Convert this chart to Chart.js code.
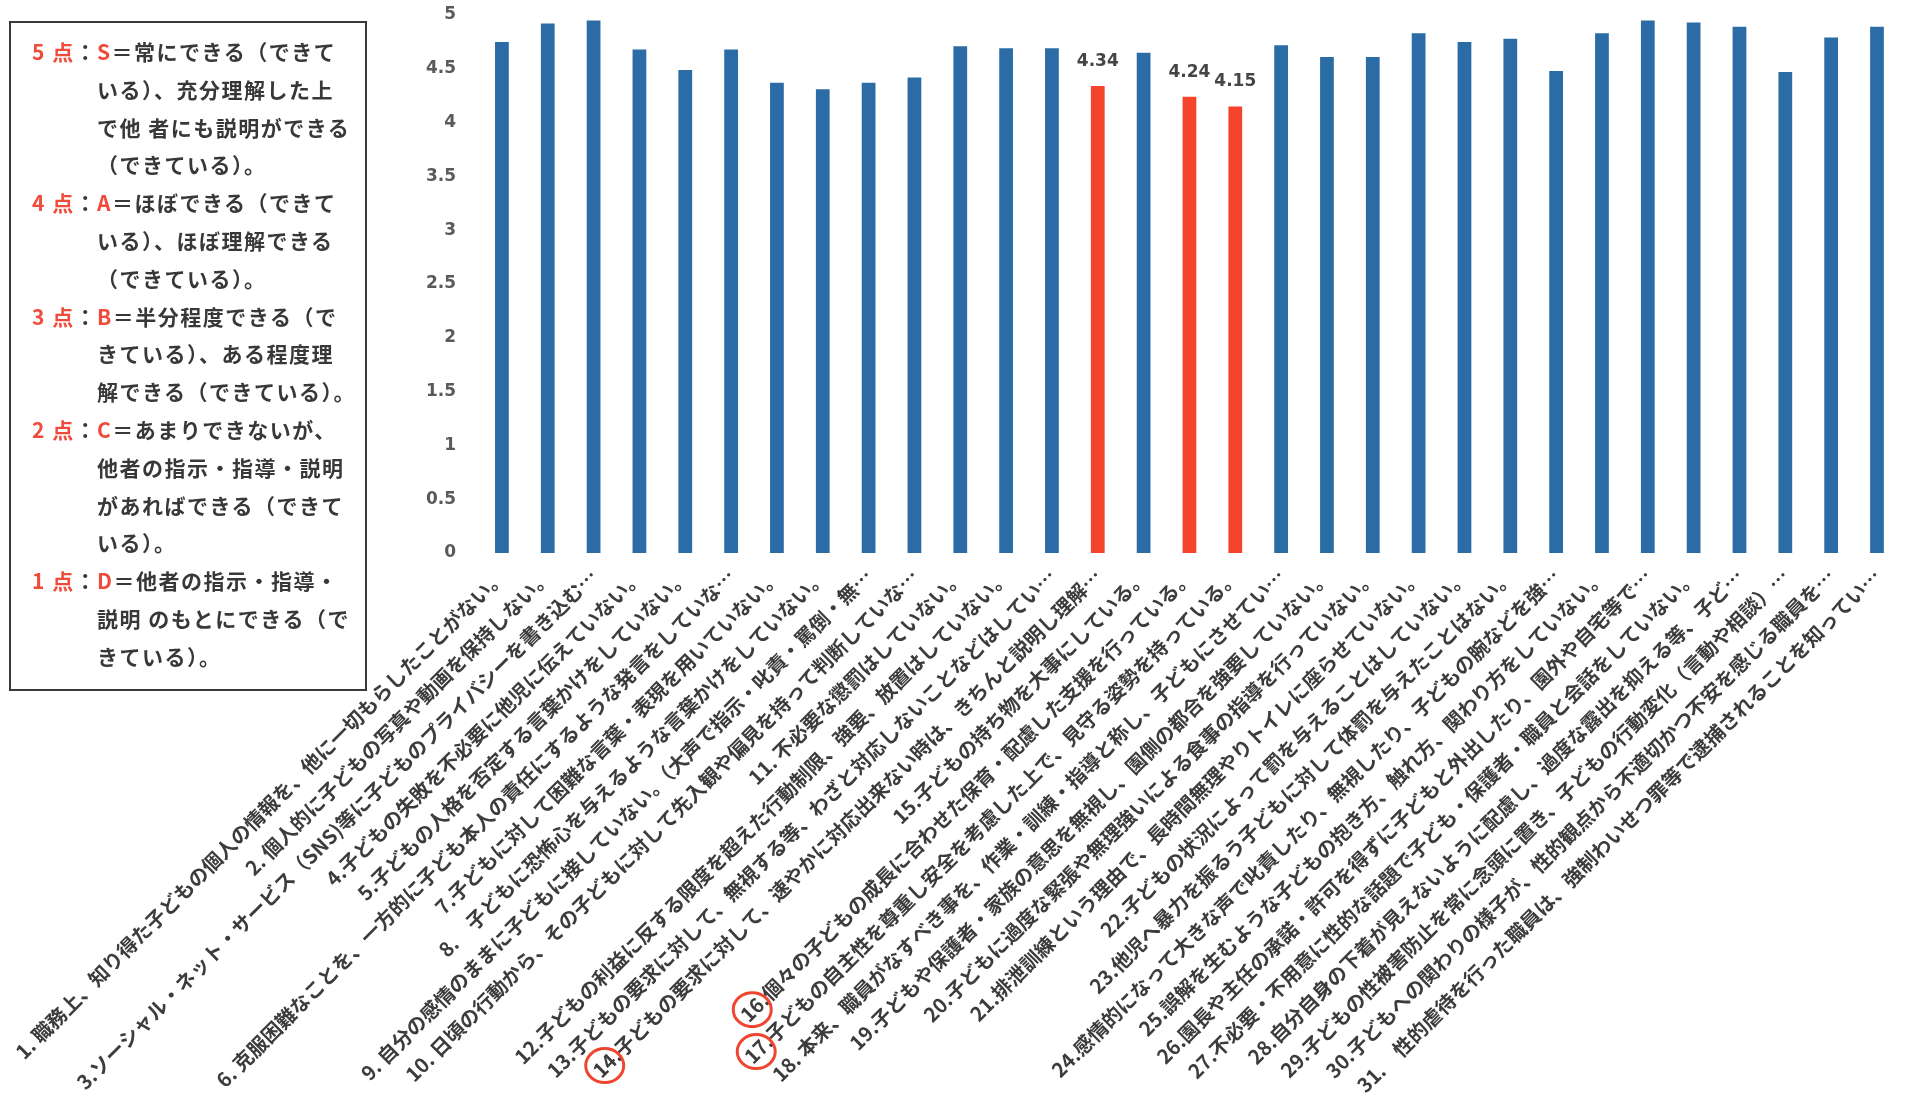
<!DOCTYPE html>
<html>
<head>
<meta charset="utf-8">
<script src="https://cdn.jsdelivr.net/npm/chart.js@4.4.1/dist/chart.umd.min.js"></script>
<style>
body{margin:0;background:#fff;}
#wrap{position:relative;width:1905px;height:1094px;}
#legend{position:absolute;left:9px;top:21px;width:358px;height:670px;border:2px solid #3a3a3a;
  font-family:"Noto Sans CJK JP",sans-serif;font-weight:700;font-size:21px;letter-spacing:1.5px;
  line-height:37.8px;color:#383838;padding:10px 0 0 21px;box-sizing:border-box;}
.row{display:flex;}
.hd{width:65px;flex:none;white-space:nowrap;}
.bd{white-space:nowrap;}
.r{color:#ef4b3b;}
</style>
</head>
<body>
<div id="wrap">
<canvas id="chart" width="1905" height="1094"></canvas>
<div id="legend">
  <div class="row"><span class="hd"><span class="r">5 点</span>：</span><span class="bd"><span class="r">S</span>＝常にできる（できて<br>いる）、充分理解した上<br>で他 者にも説明ができる<br>（できている）。</span></div>
  <div class="row"><span class="hd"><span class="r">4 点</span>：</span><span class="bd"><span class="r">A</span>＝ほぼできる（できて<br>いる）、ほぼ理解できる<br>（できている）。</span></div>
  <div class="row"><span class="hd"><span class="r">3 点</span>：</span><span class="bd"><span class="r">B</span>＝半分程度できる（で<br>きている）、ある程度理<br>解できる（できている）。</span></div>
  <div class="row"><span class="hd"><span class="r">2 点</span>：</span><span class="bd"><span class="r">C</span>＝あまりできないが、<br>他者の指示・指導・説明<br>があればできる（できて<br>いる）。</span></div>
  <div class="row"><span class="hd"><span class="r">1 点</span>：</span><span class="bd"><span class="r">D</span>＝他者の指示・指導・<br>説明 のもとにできる（で<br>きている）。</span></div>
</div>
</div>
<script>
const items = [
  "1. 職務上、知り得た子どもの個人の情報を、他に一切もらしたことがない。",
  "2. 個人的に子どもの写真や動画を保持しない。",
  "3.ソーシャル・ネット・サービス（SNS)等に子どものプライバシーを書き込む…",
  "4.子どもの失敗を不必要に他児に伝えていない。",
  "5.子どもの人格を否定する言葉かけをしていない。",
  "6. 克服困難なことを、一方的に子ども本人の責任にするような発言をしていな…",
  "7.子どもに対して困難な言葉・表現を用いていない。",
  "8.　子どもに恐怖心を与えるような言葉かけをしていない。",
  "9. 自分の感情のままに子どもに接していない。（大声で指示・叱責・罵倒・無…",
  "10. 日頃の行動から、その子どもに対して先入観や偏見を持って判断していな…",
  "11. 不必要な懲罰はしていない。",
  "12.子どもの利益に反する限度を超えた行動制限、強要、放置はしていない。",
  "13.子どもの要求に対して、無視する等、わざと対応しないことなどはしてい…",
  "14.子どもの要求に対して、速やかに対応出来ない時は、きちんと説明し理解…",
  "15.子どもの持ち物を大事にしている。",
  "16.個々の子どもの成長に合わせた保育・配慮した支援を行っている。",
  "17.子どもの自主性を尊重し安全を考慮した上で、見守る姿勢を持っている。",
  "18. 本来、職員がなすべき事を、作業・訓練・指導と称し、子どもにさせてい…",
  "19.子どもや保護者・家族の意思を無視し、園側の都合を強要していない。",
  "20.子どもに過度な緊張や無理強いによる食事の指導を行っていない。",
  "21.排泄訓練という理由で、長時間無理やりトイレに座らせていない。",
  "22.子どもの状況によって罰を与えることはしていない。",
  "23.他児へ暴力を振るう子どもに対して体罰を与えたことはない。",
  "24.感情的になって大きな声で叱責したり、無視したり、子どもの腕などを強…",
  "25.誤解を生むような子どもの抱き方、触れ方、関わり方をしていない。",
  "26.園長や主任の承諾・許可を得ずに子どもと外出したり、園外や自宅等で…",
  "27.不必要・不用意に性的な話題で子ども・保護者・職員と会話をしていない。",
  "28.自分自身の下着が見えないように配慮し、過度な露出を抑える等、子ど…",
  "29.子どもの性被害防止を常に念頭に置き、子どもの行動変化（言動や相談）…",
  "30.子どもへの関わりの様子が、性的観点から不適切かつ不安を感じる職員を…",
  "31.　性的虐待を行った職員は、強制わいせつ罪等で逮捕されることを知ってい…"
];
const scores = [4.75,4.92,4.95,4.68,4.49,4.68,4.37,4.31,4.37,4.42,4.71,4.69,4.69,4.34,4.65,4.24,
  4.15,4.72,4.61,4.61,4.83,4.75,4.78,4.48,4.83,4.95,4.93,4.89,4.47,4.79,4.89];
const flagged = [14,16,17];   // red bars, value shown, number circled
const yMin = 0, yMax = 5, yStep = 0.5;

const BLUE = "#2b6ca7", RED = "#f4442c";
const barColors = scores.map((v,i)=>flagged.includes(i+1)?RED:BLUE);

const marks = {
  id:"marks",
  afterDatasetsDraw(chart){
    const ctx=chart.ctx, meta=chart.getDatasetMeta(0);
    ctx.save();
    ctx.font='bold 17px "DejaVu Sans"';
    ctx.fillStyle="#454545";
    ctx.textAlign="center";
    ctx.textBaseline="alphabetic";
    flagged.forEach(n=>{
      const bar=meta.data[n-1];
      ctx.fillText(scores[n-1].toFixed(2),bar.x,bar.y-20);
    });
    ctx.restore();
  },
  afterDraw(chart){
    const ctx=chart.ctx, xs=chart.scales.x;
    const font=Chart.helpers.toFont(xs.options.ticks.font);
    const k=Math.SQRT1_2;
    ctx.save();
    ctx.font=font.string;
    ctx.strokeStyle="#f0452f";
    ctx.lineWidth=3;
    flagged.forEach(n=>{
      const label=items[n-1];
      const num=label.split(".")[0];
      const w=ctx.measureText(label).width, nw=ctx.measureText(num).width;
      const ax=xs.getPixelForTick(n-1)-k*font.lineHeight/2;
      const ay=xs.top+xs.options.ticks.padding;
      const xp=-w+nw/2, yp=font.lineHeight/2;
      const cx=ax+k*(xp+yp), cy=ay+k*(yp-xp);
      ctx.beginPath();
      ctx.ellipse(cx,cy,19,17,0,0,Math.PI*2);
      ctx.stroke();
    });
    ctx.restore();
  }
};

new Chart(document.getElementById("chart"),{
  type:"bar",
  data:{labels:items,datasets:[{data:scores,backgroundColor:barColors,barPercentage:0.3,categoryPercentage:1}]},
  options:{
    responsive:false,
    animation:false,
    layout:{padding:{top:15,right:3,left:0,bottom:0}},
    plugins:{legend:{display:false},tooltip:{enabled:false}},
    scales:{
      x:{
        grid:{display:false,drawTicks:false},
        border:{display:false},
        ticks:{autoSkip:false,minRotation:45,maxRotation:45,padding:11,color:"#3c3c3c",
          font:{family:'"Noto Sans CJK JP"',size:20,weight:"bold"}},
        afterFit(s){s.height=541;}
      },
      y:{
        min:yMin,max:yMax,
        grid:{display:false,drawTicks:true,tickLength:20},
        border:{display:false},
        ticks:{stepSize:yStep,padding:3,color:"#5a5a5a",font:{family:'"DejaVu Sans"',size:17,weight:"bold"},
          callback:v=>String(v)},
        afterFit(s){s.width=479;}
      }
    }
  },
  plugins:[marks]
});
</script>
</body>
</html>
